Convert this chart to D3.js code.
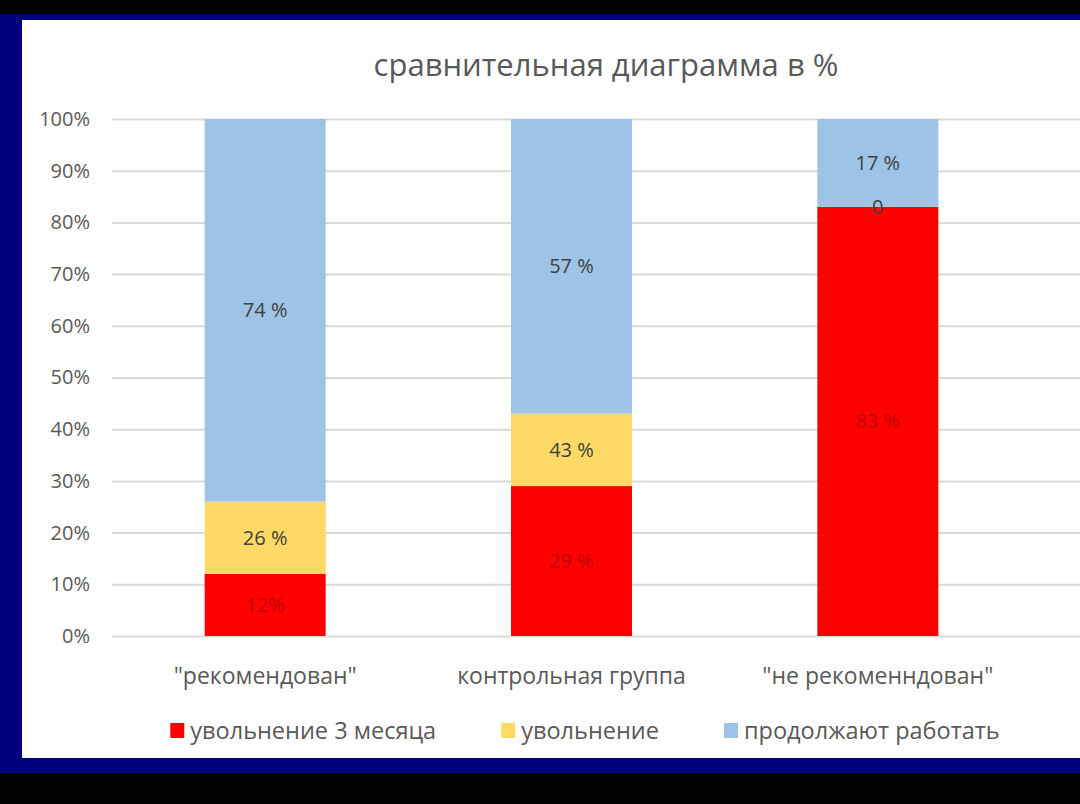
<!DOCTYPE html>
<html>
<head>
<meta charset="utf-8">
<script src="https://cdn.jsdelivr.net/npm/d3@7"></script>
<style>
  body { margin: 0; background: #000; }
  svg { display: block; }
</style>
</head>
<body>
<svg></svg>
<script>
    // data
    categories = ['"рекомендован"', "контрольная группа", '"не рекоменндован"'];
    seriesNames = ["увольнение 3 месяца", "увольнение", "продолжают работать"];
    fired3 = [0.12, 0.29, 0.83];
    fired = [0.14, 0.14, 0.00];
    working = [0.74, 0.57, 0.17];
    fired3Labels = ["12%", "29 %", "83 %"];
    firedLabels = ["26 %", "43 %", "0"];
    workingLabels = ["74 %", "57 %", "17 %"];
    yTicks = [0, 0.1, 0.2, 0.3, 0.4, 0.5, 0.6, 0.7, 0.8, 0.9, 1];

    colors = ["#ff0000", "#ffd966", "#9dc3e6"];
    labelColors = ["#c00000", "#404040", "#404040"];
    font = "'Open Sans', sans-serif";

    table = categories.map(function(c, i) {
        return {cat: c, s0: fired3[i], s1: fired[i], s2: working[i]};
    });
    labels = [fired3Labels, firedLabels, workingLabels];

    svg = d3.select("svg").attr("width", 1080).attr("height", 804);

    // frame: black bands, navy border, white chart area
    svg.append("rect").attr("x", 0).attr("y", 0).attr("width", 1080).attr("height", 804).attr("fill", "#000");
    svg.append("rect").attr("x", 0).attr("y", 14).attr("width", 1080).attr("height", 759).attr("fill", "#00007f");
    svg.append("rect").attr("x", 22).attr("y", 20).attr("width", 1058).attr("height", 738).attr("fill", "#fff");

    xs = d3.scaleBand().domain(categories).range([112, 1031]).paddingInner(0.605).paddingOuter(0.3025);
    ys = d3.scaleLinear().domain([0, 1]).range([636, 119]);

    //draw the y axis with gridlines
    yAxis = svg.append("g")
    .attr("transform", "translate(112,0)")
    .call(d3.axisLeft(ys).tickValues(yTicks).tickFormat(d3.format(".0%")).tickSize(-(1080 - 112)).tickPadding(22));
    yAxis.select(".domain").remove();
    yAxis.selectAll("line").attr("stroke", "#d9d9d9").attr("stroke-width", 2);
    yAxis.selectAll("text").attr("fill", "#595959").attr("font-size", 20).attr("font-family", font);

    //draw the stacked bars
    stacked = d3.stack().keys(["s0", "s1", "s2"])(table);
    layers = svg.append("g").selectAll("g").data(stacked).enter().append("g")
    .attr("fill", function(d, i) { return colors[i]; });
    layers.selectAll("rect").data(function(d) { return d; }).enter().append("rect")
    .attr("x", function(d) { return xs(d.data.cat); })
    .attr("y", function(d) { return ys(d[1]); })
    .attr("width", xs.bandwidth())
    .attr("height", function(d) { return ys(d[0]) - ys(d[1]); });

    //data labels
    stacked.forEach(function(layer, k) {
        svg.append("g").selectAll("text").data(layer).enter().append("text")
        .attr("x", function(d) { return xs(d.data.cat) + xs.bandwidth() / 2; })
        .attr("y", function(d) { return ys((d[0] + d[1]) / 2); })
        .attr("dy", "0.35em")
        .attr("text-anchor", "middle")
        .attr("font-family", font)
        .attr("font-size", 20)
        .attr("fill", labelColors[k])
        .text(function(d, i) { return labels[k][i]; });
    });

    //draw the x axis
    xAxis = svg.append("g")
    .attr("transform", "translate(0,636)")
    .call(d3.axisBottom(xs).tickSize(0).tickPadding(32));
    xAxis.select(".domain").remove();
    xAxis.selectAll("text").attr("fill", "#595959").attr("font-size", 23).attr("font-family", font);

    //title
    svg.append("text")
    .attr("x", 606).attr("y", 76)
    .attr("text-anchor", "middle")
    .attr("font-family", font)
    .attr("font-size", 31)
    .attr("fill", "#595959")
    .text("сравнительная диаграмма в %");

    //legend
    legend = svg.append("g");
    items = legend.selectAll("g").data(seriesNames).enter().append("g");
    items.append("rect").attr("y", -16).attr("width", 14).attr("height", 15)
    .attr("fill", function(d, i) { return colors[i]; });
    items.append("text").attr("x", 20).attr("font-family", font).attr("font-size", 23.5)
    .attr("fill", "#595959").text(function(d) { return d; });
    widths = [];
    items.each(function() { widths.push(this.getBBox().width); });
    total = d3.sum(widths) + 65 * (widths.length - 1);
    pos = 585 - total / 2;
    items.attr("transform", function(d, i) {
        var t = "translate(" + pos + ",739)";
        pos += widths[i] + 65;
        return t;
    });
</script>
</body>
</html>
